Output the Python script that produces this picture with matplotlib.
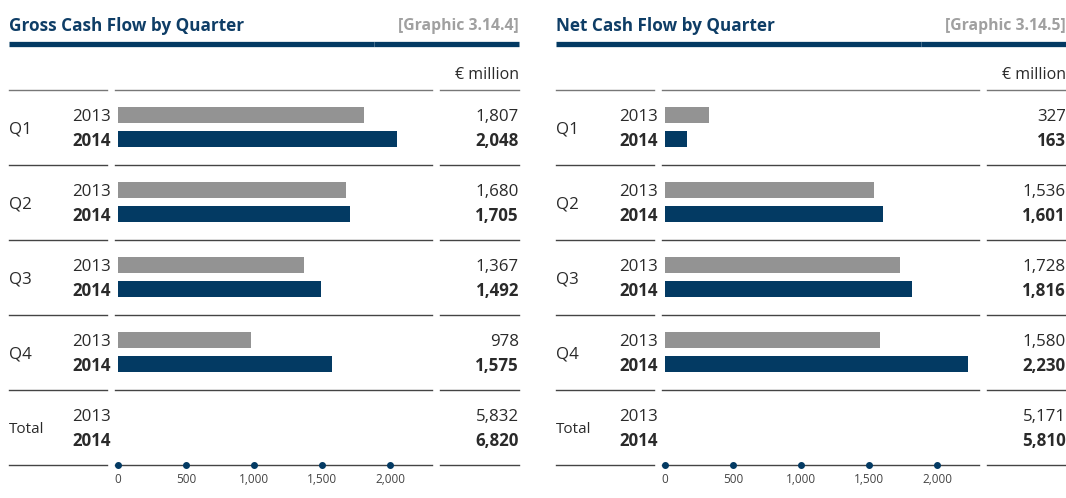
import matplotlib
matplotlib.use("Agg")
import matplotlib.pyplot as plt

plt.rcParams['font.family'] = ['Open Sans', 'DejaVu Sans']

quarters = ["Q1", "Q2", "Q3", "Q4"]
years = ["2013", "2014"]
gross_2013 = [1807, 1680, 1367, 978]
gross_2014 = [2048, 1705, 1492, 1575]
gross_total = [5832, 6820]
net_2013 = [327, 1536, 1728, 1580]
net_2014 = [163, 1601, 1816, 2230]
net_total = [5171, 5810]
ticks = [0, 500, 1000, 1500, 2000]
tick_labels = ["0", "500", "1,000", "1,500", "2,000"]

NAVY = "#033a63"
GRAY = "#939393"
TITLE = "#0e3d66"
LINE = "#444444"
TXT = "#2a2a2a"
FS = 12.2
DY = 2  # text baseline nudge (px)

W, H = 1066, 498
fig = plt.figure(figsize=(W / 100, H / 100), dpi=100)

ov = fig.add_axes([0, 0, 1, 1])
ov.set_xlim(0, W)
ov.set_ylim(H, 0)
ov.axis("off")

K = 68 / 500.0  # pixels per unit
ROW0 = 127
ROWH = 75


def panel(dx, title, graphic, v13, v14, totals):
    ov.text(9 + dx, 24 + DY, title, fontsize=12.3, fontweight="bold", color=TITLE,
            ha="left", va="center")
    ov.text(519 + dx, 24 + DY, graphic, fontsize=11.3, fontweight="bold", color="#a0a0a0",
            ha="right", va="center")
    ov.plot([9 + dx, 373.6 + dx], [44, 44], color=NAVY, lw=3.8, solid_capstyle="butt")
    ov.plot([374.4 + dx, 519 + dx], [44, 44], color=NAVY, lw=3.8, solid_capstyle="butt")
    ov.text(519 + dx, 73 + DY, "€ million", fontsize=11.5, color=TXT, ha="right", va="center")

    for i in range(6):
        y = ROW0 - ROWH / 2 + ROWH * i
        col = "#777777" if i == 0 else LINE
        ov.plot([9 + dx, 107 + dx], [y, y], color=col, lw=1.0)
        ov.plot([115 + dx, 432 + dx], [y, y], color=col, lw=1.0)
        ov.plot([440 + dx, 519 + dx], [y, y], color=col, lw=1.0)

    labels = quarters + ["Total"]
    vals13 = v13 + [totals[0]]
    vals14 = v14 + [totals[1]]
    for i, lab in enumerate(labels):
        yc = ROW0 + ROWH * i + DY
        ov.text(9 + dx, yc, lab, fontsize=11 if lab == "Total" else FS,
                color=TXT, ha="left", va="center")
        ov.text(111 + dx, yc - 12, years[0], fontsize=FS, color=TXT, ha="right", va="center")
        ov.text(111 + dx, yc + 12, years[1], fontsize=FS, fontweight="bold", color=TXT,
                ha="right", va="center")
        ov.text(519 + dx, yc - 12, f"{vals13[i]:,}", fontsize=FS, color=TXT,
                ha="right", va="center")
        ov.text(519 + dx, yc + 12, f"{vals14[i]:,}", fontsize=FS, fontweight="bold",
                color=TXT, ha="right", va="center")

    left_px, right_px = 115 + dx, 432 + dx
    ax = fig.add_axes([left_px / W, 0, (right_px - left_px) / W, 1])
    zero_px = 118 + dx
    ax.set_xlim((left_px - zero_px) / K, (right_px - zero_px) / K)
    ax.set_ylim((H - ROW0) / ROWH, (0 - ROW0) / ROWH)
    ax.axis("off")
    ax.patch.set_alpha(0)
    pos = list(range(len(quarters)))
    off = 12 / ROWH
    bh = 16 / ROWH
    ax.barh([p - off for p in pos], v13, height=bh, color=GRAY, left=0)
    ax.barh([p + off for p in pos], v14, height=bh, color=NAVY, left=0)
    ybase = len(quarters) + 0.5
    ax.plot(ticks, [ybase] * len(ticks), "o", color=NAVY, ms=4, zorder=5, clip_on=False)
    for t, tl in zip(ticks, tick_labels):
        ax.text(t, ybase + 15 / ROWH, tl, fontsize=8.5, color="#444444",
                ha="center", va="center")


panel(0, "Gross Cash Flow by Quarter", "[Graphic 3.14.4]", gross_2013, gross_2014, gross_total)
panel(547, "Net Cash Flow by Quarter", "[Graphic 3.14.5]", net_2013, net_2014, net_total)

fig.savefig("out.png", dpi=100)
